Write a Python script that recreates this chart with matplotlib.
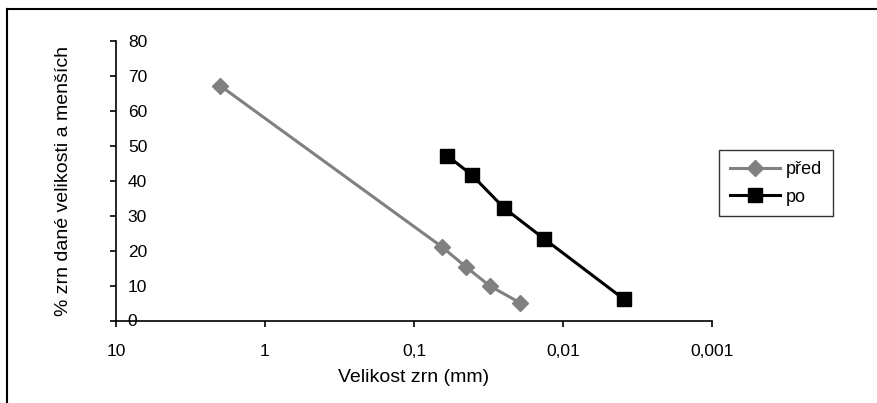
import matplotlib
matplotlib.use('Agg')
import matplotlib.pyplot as plt
from matplotlib.lines import Line2D
from matplotlib.ticker import FixedLocator, NullLocator

plt.rcParams['font.family'] = ['Liberation Sans', 'DejaVu Sans']

# grain size (mm) and cumulative % passing
pred_x = [2.0, 0.065, 0.045, 0.031, 0.0195]
pred_y = [67.2, 21.1, 15.4, 9.9, 5.1]
po_x = [0.06, 0.041, 0.025, 0.0134, 0.0039]
po_y = [47.2, 41.7, 32.3, 23.4, 6.1]

xticks = [10, 1, 0.1, 0.01, 0.001]
xticklabels = ['10', '1', '0,1', '0,01', '0,001']
yticks = [0, 10, 20, 30, 40, 50, 60, 70, 80]

fig = plt.figure(figsize=(8.78, 4.03), dpi=100)
ax = fig.add_axes([116/878, 1 - 320.5/403, (712-116)/878, (320.5-41)/403])

ax.plot(pred_x, pred_y, color='#808080', lw=2.2, marker='D', ms=8.5,
        mfc='#808080', mec='#808080', label='před')
ax.plot(po_x, po_y, color='black', lw=2.2, marker='s', ms=10.5,
        mfc='black', mec='black', label='po')

ax.set_xscale('log')
ax.set_xlim(10, 0.001)
ax.set_ylim(0, 80)
ax.xaxis.set_major_locator(FixedLocator(xticks))
ax.xaxis.set_minor_locator(NullLocator())
ax.set_xticklabels(xticklabels)
ax.set_yticks(yticks)

for s in ['top', 'right']:
    ax.spines[s].set_visible(False)
ax.spines['left'].set_linewidth(1.2)
ax.spines['bottom'].set_linewidth(1.2)

ax.tick_params(axis='x', direction='out', length=4, width=1.2, pad=13, labelsize=12.5)
ax.tick_params(axis='y', direction='out', length=4, width=1.2, pad=-12.5, labelsize=12.5)
for t in ax.get_yticklabels():
    t.set_horizontalalignment('left')

ax.set_xlabel('Velikost zrn (mm)', fontsize=14, labelpad=7)
ax.set_ylabel('% zrn dané velikosti a menších', fontsize=14, labelpad=28)

leg = ax.legend(loc='upper left', bbox_to_anchor=(719/878, 1 - 150/403),
                bbox_transform=fig.transFigure, frameon=True, fancybox=False,
                edgecolor='black', fontsize=13, handlelength=2.8,
                borderpad=0.6, labelspacing=0.6, handletextpad=0.3,
                borderaxespad=0)
leg.get_frame().set_linewidth(1.0)

# outer chart border (top and left visible)
fig.add_artist(Line2D([7/878, 1], [1 - 9/403, 1 - 9/403], color='black', lw=1.5,
                      transform=fig.transFigure))
fig.add_artist(Line2D([7/878, 7/878], [0, 1 - 9/403], color='black', lw=1.5,
                      transform=fig.transFigure))

fig.savefig('out.png', dpi=100)
